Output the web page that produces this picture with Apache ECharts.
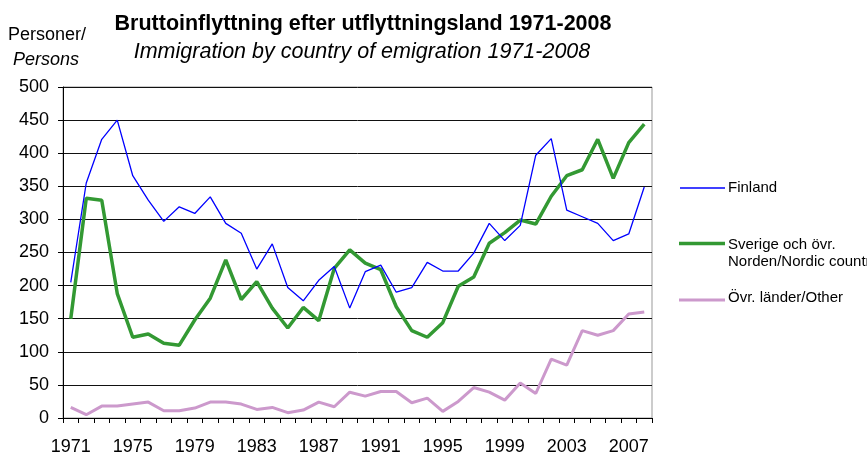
<!DOCTYPE html>
<html><head><meta charset="utf-8">
<script src="https://cdn.jsdelivr.net/npm/echarts@6/dist/echarts.min.js"></script>
<style>html,body{margin:0;padding:0;background:#fff}#c{width:867px;height:455px}</style>
</head><body><div id="c"></div>
<script>
const years = [];
for (let y = 1971; y <= 2008; y++) years.push(String(y));
const finland = [205,355,421,450,366,329,297,319,309,334,294,279,225,263,197,177,208,229,166,221,231,190,197,235,222,222,249,294,268,291,397,422,314,304,294,268,278,349];
const nordic = [150,332,329,188,122,127,113,110,148,181,239,179,206,166,136,167,147,226,254,234,224,168,132,122,144,199,213,264,280,299,293,335,366,375,421,362,416,444];
const other = [16,5,18,18,21,24,11,11,15,24,24,21,13,16,8,12,24,17,39,33,40,40,23,30,10,25,46,39,27,53,37,89,80,132,125,132,157,160];
const seriesNames = ['Finland','Sverige och övr. Norden/Nordic countries','Övr. länder/Other'];

const chart = echarts.init(document.getElementById('c'));
const font = 'Liberation Sans, Arial, sans-serif';
const mk = (name, data, color, width, z) => ({
  name, type: 'line', data, symbol: 'none', smooth: false, z,
  lineStyle: { color, width }, itemStyle: { color }
});
const txt = (x, y, text, f, align) => ({
  type: 'text', x, y,
  style: { text, fill: '#000', font: f, align: align || 'left', verticalAlign: 'middle' }
});
chart.setOption({
  animation: false,
  grid: { left: 63, right: 215, top: 87, bottom: 37, show: true, borderColor: '#999', borderWidth: 1, outerBoundsMode: 'none', containLabel: false },
  xAxis: {
    type: 'category', data: years, boundaryGap: true,
    axisLine: { lineStyle: { color: '#000', width: 1 } },
    axisTick: { show: true, interval: 0, length: 5, lineStyle: { color: '#000' } },
    axisLabel: { interval: 3, color: '#000', fontFamily: font, fontSize: 18, margin: 20 },
    splitLine: { show: false }
  },
  yAxis: {
    type: 'value', min: 0, max: 500, interval: 50,
    axisLine: { show: true, lineStyle: { color: '#000', width: 1 } },
    axisTick: { show: true, length: 5, lineStyle: { color: '#000' } },
    axisLabel: { color: '#000', fontFamily: font, fontSize: 18, margin: 14 },
    splitLine: { show: true, lineStyle: { color: '#111', width: 1 } }
  },
  series: [
    mk(seriesNames[0], finland, '#0000ff', 1.3, 3),
    mk(seriesNames[1], nordic, '#339933', 3.5, 2),
    mk(seriesNames[2], other, '#cc99cc', 3, 1)
  ],
  graphic: [
    txt(363, 24, 'Bruttoinflyttning efter utflyttningsland 1971-2008', 'bold 21.5px ' + font, 'center'),
    txt(362, 52, 'Immigration by country of emigration 1971-2008', 'italic 21.5px ' + font, 'center'),
    txt(8, 35, 'Personer/', '18px ' + font),
    txt(13, 60, 'Persons', 'italic 18px ' + font),
    { type: 'line', shape: { x1: 680, y1: 188, x2: 725, y2: 188 }, style: { stroke: '#0000ff', lineWidth: 1.3 } },
    txt(728, 188, 'Finland', '15px ' + font),
    { type: 'line', shape: { x1: 679, y1: 243.5, x2: 725, y2: 243.5 }, style: { stroke: '#339933', lineWidth: 3.5 } },
    txt(728, 245, 'Sverige och övr.', '15px ' + font),
    txt(728, 262, 'Norden/Nordic countries', '15px ' + font),
    { type: 'line', shape: { x1: 679, y1: 300, x2: 725, y2: 300 }, style: { stroke: '#cc99cc', lineWidth: 3 } },
    txt(728, 298, 'Övr. länder/Other', '15px ' + font)
  ]
});
</script></body></html>
